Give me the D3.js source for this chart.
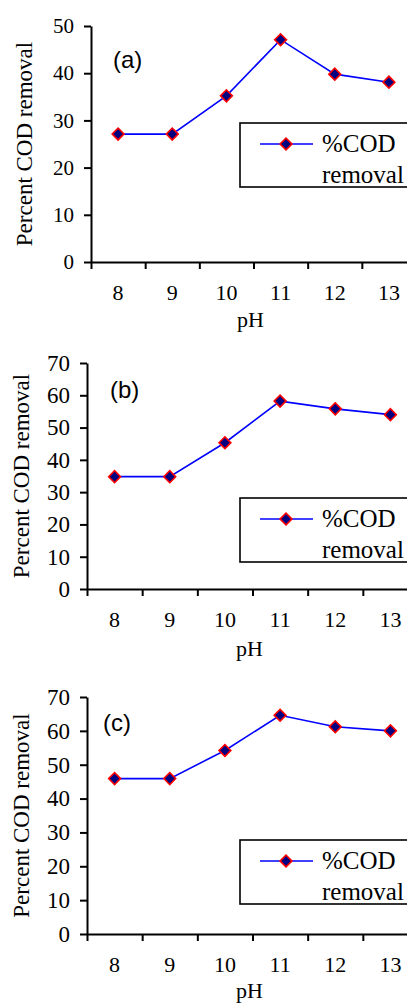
<!DOCTYPE html>
<html>
<head>
<meta charset="utf-8">
<script src="https://cdn.jsdelivr.net/npm/d3@7"></script>
<style>
  body { margin: 0; background: #fff; }
  svg { display: block; }
  .axis path, .axis line { stroke: #000; stroke-width: 2; }
  text { font-family: "Liberation Serif", "Times New Roman", "DejaVu Serif", serif; fill: #000; }
</style>
</head>
<body>
<div id="chart"></div>
<script>
// pH values on the x axis
const pH = [8, 9, 10, 11, 12, 13];

// percent COD removal
const codA = [27.1, 27.1, 35.2, 47.1, 39.8, 38.1];
const codB = [34.8, 34.8, 45.3, 58.2, 55.8, 54.0];
const codC = [45.9, 45.9, 54.2, 64.6, 61.2, 60.0];

const ticksA = [0, 10, 20, 30, 40, 50];
const ticksBC = [0, 10, 20, 30, 40, 50, 60, 70];

const panelLabels = ['(a)', '(b)', '(c)'];
const seriesName = ['%COD', 'removal'];
const xTitle = 'pH';
const yTitle = 'Percent COD removal';

// layout of each panel on the page
const panels = [
    { label: panelLabels[0], values: codA, ticks: ticksA, x0: 91, x1: 416, top: 26, bottom: 262,
      yFont: 21, yTitleX: 32, labelX: 113, labelY: 68, legendTop: 123, xTitleDy: 65 },
    { label: panelLabels[1], values: codB, ticks: ticksBC, x0: 87, x1: 418, top: 363, bottom: 589,
      yFont: 23, yTitleX: 29, labelX: 110, labelY: 398, legendTop: 498, xTitleDy: 67 },
    { label: panelLabels[2], values: codC, ticks: ticksBC, x0: 87, x1: 418, top: 697, bottom: 934,
      yFont: 23, yTitleX: 29, labelX: 103, labelY: 731, legendTop: 840, xTitleDy: 64 }
];

const width = 407, height = 1003;
const svg = d3.select('#chart').append('svg')
    .attr('width', width)
    .attr('height', height);

const diamond = d3.symbol().type(d3.symbolSquare).size(70);

function drawMarker(sel) {
    sel.attr('d', diamond)
        .attr('fill', '#000080')
        .attr('stroke', '#ff0000')
        .attr('stroke-width', 1.6);
}

panels.forEach(p => {
    const g = svg.append('g');
    const yMax = p.ticks[p.ticks.length - 1];

    const xBand = d3.scaleBand().domain(pH).range([p.x0, p.x1]);
    const xEdge = d3.scaleLinear().domain([0, pH.length]).range([p.x0, p.x1]);
    const y = d3.scaleLinear().domain([0, yMax]).range([p.bottom, p.top]);

    // x axis: ticks between categories, labels centred in each band
    g.append('g')
        .attr('class', 'axis')
        .attr('transform', `translate(0,${p.bottom})`)
        .call(d3.axisBottom(xEdge)
            .tickValues(d3.range(0, pH.length + 1))
            .tickSize(7)
            .tickSizeOuter(0)
            .tickFormat(''));

    g.append('g')
        .selectAll('text')
        .data(pH)
        .join('text')
        .attr('x', d => xBand(d) + xBand.bandwidth() / 2)
        .attr('y', p.bottom + 38)
        .attr('text-anchor', 'middle')
        .style('font-size', '22px')
        .text(d => d);

    g.append('text')
        .attr('x', (p.x0 + p.x1) / 2 - 3)
        .attr('y', p.bottom + p.xTitleDy)
        .attr('text-anchor', 'middle')
        .style('font-size', '22px')
        .text(xTitle);

    // y axis
    const yAxis = g.append('g')
        .attr('class', 'axis')
        .attr('transform', `translate(${p.x0},0)`)
        .call(d3.axisLeft(y)
            .tickValues(p.ticks)
            .tickSize(7)
            .tickSizeOuter(0)
            .tickPadding(10));
    yAxis.attr('font-family', null).attr('font-size', null);
    yAxis.selectAll('text')
        .style('font-size', p.yFont + 'px')
        .attr('fill', '#000');

    g.append('text')
        .attr('transform', `translate(${p.yTitleX},${(p.top + p.bottom) / 2}) rotate(-90)`)
        .attr('text-anchor', 'middle')
        .style('font-size', '23px')
        .text(yTitle);

    // panel letter
    g.append('text')
        .attr('x', p.labelX)
        .attr('y', p.labelY)
        .style('font-family', '"Liberation Sans", Arial, sans-serif')
        .style('font-size', '24px')
        .attr('fill', '#3a3a3a')
        .text(p.label);

    // series line and markers
    const line = d3.line()
        .x((d, i) => xBand(pH[i]) + xBand.bandwidth() / 2)
        .y(d => y(d));

    g.append('path')
        .datum(p.values)
        .attr('fill', 'none')
        .attr('stroke', '#0000ff')
        .attr('stroke-width', 1.6)
        .attr('d', line);

    g.append('g')
        .selectAll('path')
        .data(p.values)
        .join('path')
        .attr('transform', (d, i) => `translate(${xBand(pH[i]) + xBand.bandwidth() / 2},${y(d)}) rotate(45)`)
        .call(drawMarker);

    // legend box, runs off the right edge like the original
    const lg = g.append('g').attr('transform', `translate(240,${p.legendTop})`);
    lg.append('rect')
        .attr('width', 190)
        .attr('height', 64)
        .attr('fill', '#fff')
        .attr('stroke', '#000')
        .attr('stroke-width', 1.6);
    lg.append('line')
        .attr('x1', 20).attr('x2', 73)
        .attr('y1', 21).attr('y2', 21)
        .attr('stroke', '#0000ff')
        .attr('stroke-width', 1.6);
    lg.append('path')
        .attr('transform', 'translate(46,21) rotate(45)')
        .call(drawMarker);
    lg.append('text')
        .attr('x', 82)
        .attr('y', 29)
        .style('font-size', '25px')
        .text(seriesName[0]);
    lg.append('text')
        .attr('x', 82)
        .attr('y', 60)
        .style('font-size', '25px')
        .text(seriesName[1]);
});
</script>
</body>
</html>
